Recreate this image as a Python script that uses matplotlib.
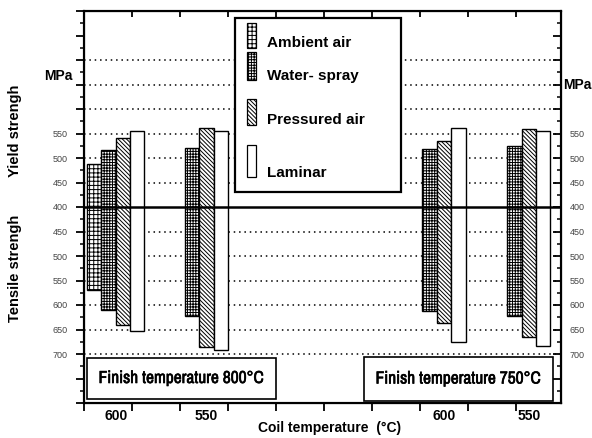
import matplotlib.pyplot as plt
import matplotlib.patheffects as pe
import numpy as np
from matplotlib import font_manager
from matplotlib.patches import Rectangle

# cooling methods and their fill patterns
cooling = ['Ambient air', 'Water- spray', 'Pressured air', 'Laminar']
hatches = ['++++', '++++++', '\\\\\\\\\\\\\\\\', '']
finish_labels = ['Finish temperature 800°C', 'Finish temperature 750°C']
coil_temps = ['600', '550', '600', '550']

# yield / tensile strength (MPa), nan = no bar
ys_800_600 = [488, 516, 540, 556]
ts_800_600 = [570, 610, 640, 654]
ys_800_550 = [np.nan, 521, 561, 555]
ts_800_550 = [np.nan, 623, 686, 691]
ys_750_600 = [np.nan, 518, 535, 561]
ts_750_600 = [np.nan, 613, 637, 676]
ys_750_550 = [np.nan, 524, 559, 556]
ts_750_550 = [np.nan, 622, 666, 683]

yield_groups = [ys_800_600, ys_800_550, ys_750_600, ys_750_550]
tensile_groups = [ts_800_600, ts_800_550, ts_750_600, ts_750_550]

W, H = 592, 438


def fx(px):
    return px / W


def fy(py):
    return 1 - py / H


# a narrow bold face for the "Finish temperature" boxes, if one is installed
narrow_kw = dict(family='Liberation Sans')
narrow_size = 10
fonts = font_manager.fontManager.ttflist
hit = [f.name for f in fonts if 'Narrow' in f.name] or \
      [f.name for f in fonts if 'Condensed' in f.name]
if hit:
    narrow_kw = dict(family=hit[0])
    narrow_size = 12.5
    has_bold = any(f.name == hit[0] and str(f.weight) in ('bold', '700')
                   for f in fonts)
    if not has_bold:
        # fake the heavier stroke of the original
        narrow_kw['path_effects'] = [pe.withStroke(linewidth=0.45,
                                                   foreground='black')]

plt.rcParams['font.family'] = ['Liberation Sans', 'DejaVu Sans']
plt.rcParams['hatch.linewidth'] = 0.7

fig = plt.figure(figsize=(W / 100, H / 100), dpi=100)
ax = fig.add_axes([fx(84), fy(403), fx(561) - fx(84), fy(11) - fy(403)])
xmax = 9.94
ax.set_xlim(0, xmax)
ax.set_ylim(-400, 400)

# bars: yield above the 400 line, tensile below it
base = 400
group_start = [0.06, 1.8, 6.75, 8.52]
bw = 0.3
centers = []
for g in range(4):
    xs = group_start[g] + bw * np.arange(4)
    ys = np.array(yield_groups[g], float) - base
    ts = np.array(tensile_groups[g], float) - base
    for i in range(4):
        if np.isnan(ys[i]):
            continue
        ax.bar(xs[i], ys[i] + ts[i], bottom=-ts[i], width=bw, align='edge',
               facecolor='white', edgecolor='black', hatch=hatches[i],
               linewidth=1.0, zorder=2)
    ok = ~np.isnan(ys)
    centers.append((xs[ok][0] + xs[ok][-1] + bw) / 2)

# dotted grid and the 400 MPa centre line
for v in range(50, 301, 50):
    for s in (1, -1):
        ax.axhline(s * v, color='black', lw=1.1, ls=(0, (1, 2.5)), zorder=1)
ax.axhline(0, color='black', lw=1.8, zorder=3)

for sp in ax.spines.values():
    sp.set_linewidth(1.5)

yt = np.arange(-400, 401, 50)
ylabels = [str(base + abs(v)) if -300 <= v <= 150 else '' for v in yt]
ax.set_yticks(yt)
ax.set_yticklabels(ylabels)
ax.set_yticks(np.arange(-375, 400, 50), minor=True)
ax.tick_params(axis='y', which='major', direction='out', length=6, width=1.3,
               labelsize=6.5, labelcolor='#444444', pad=6)
ax.tick_params(axis='y', which='minor', direction='out', length=3, width=1.1)

ax.set_xticks(np.arange(0, 10))
ax.set_xticklabels([])
ax.set_xticks(centers, coil_temps, minor=True)
ax.tick_params(axis='x', which='major', direction='out', length=6, width=1.3)
ax.tick_params(axis='x', which='minor', length=0, labelsize=10, pad=4)
for lbl in ax.get_xticklabels(minor=True):
    lbl.set_fontweight('bold')

# right side ticks point inward
ay = ax.twinx()
ay.set_ylim(-400, 400)
ay.set_yticks(yt)
ay.set_yticklabels(ylabels)
ay.set_yticks(np.arange(-375, 400, 50), minor=True)
ay.tick_params(axis='y', which='major', direction='in', length=6, width=1.3,
               labelsize=6.5, labelcolor='#444444', pad=6)
ay.tick_params(axis='y', which='minor', direction='in', length=3, width=1.1)
for sp in ay.spines.values():
    sp.set_linewidth(1.5)

# top ticks point inward
at = ax.twiny()
at.set_xlim(0, xmax)
at.set_xticks(np.arange(1, 10))
at.set_xticklabels([])
at.tick_params(axis='x', direction='in', length=4, width=1.3)

# axis texts
fig.text(fx(330), fy(428), 'Coil temperature  (°C)', ha='center', va='center',
         fontsize=10, fontweight='bold')
fig.text(fx(15), fy(131), 'Yield strengh', rotation=90, ha='center',
         va='center', fontsize=10.5, fontweight='bold')
fig.text(fx(15), fy(268), 'Tensile strengh', rotation=90, ha='center',
         va='center', fontsize=10.5, fontweight='bold')
fig.text(fx(58), fy(76), 'MPa', ha='center', va='center', fontsize=10,
         fontweight='bold')
fig.text(fx(563), fy(85), 'MPa', ha='left', va='center', fontsize=10,
         fontweight='bold')

# legend box
fig.add_artist(Rectangle((fx(235), fy(192)), fx(401) - fx(235), fy(18) - fy(192),
                         transform=fig.transFigure, facecolor='white',
                         edgecolor='black', lw=1.6, zorder=4))
patch_rows = [(23, 48), (52, 80), (99, 125), (145, 177)]
text_rows = [43, 76, 120, 173]
for i, name in enumerate(cooling):
    top, bot = patch_rows[i]
    fig.add_artist(Rectangle((fx(247), fy(bot)), fx(256) - fx(247), fy(top) - fy(bot),
                             transform=fig.transFigure, facecolor='white',
                             edgecolor='black', lw=0.9, hatch=hatches[i], zorder=5))
    fig.text(fx(267), fy(text_rows[i]), name, ha='left', va='center',
             fontsize=11, fontweight='bold', zorder=6)

# finish temperature boxes
boxes = [(87, 358, 276, 399), (364, 357, 553, 401)]
for (x0, y0, x1, y1), lab in zip(boxes, finish_labels):
    fig.add_artist(Rectangle((fx(x0), fy(y1)), fx(x1) - fx(x0), fy(y0) - fy(y1),
                             transform=fig.transFigure, facecolor='white',
                             edgecolor='black', lw=1.2, zorder=4))
    fig.text(fx((x0 + x1) / 2), fy((y0 + y1) / 2), lab, ha='center', va='center',
             fontsize=narrow_size, fontweight='bold', zorder=6, **narrow_kw)

fig.savefig('out.png', dpi=100)
